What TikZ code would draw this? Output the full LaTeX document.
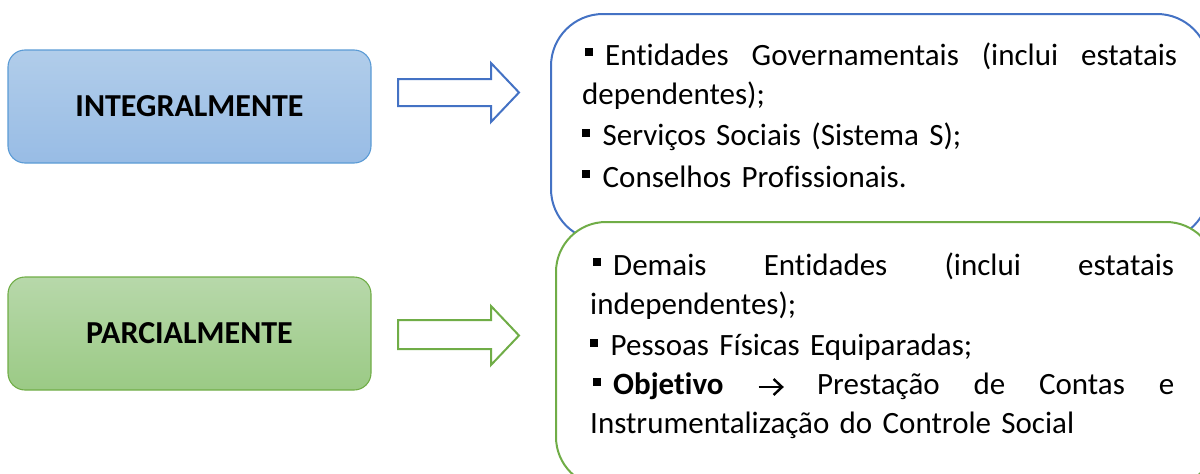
\documentclass[tikz,border=0pt]{standalone}
\usepackage{fontspec}
\setmainfont[Ligatures=NoCommon]{Carlito}
\definecolor{bdark}{HTML}{4472C4}
\definecolor{blite}{HTML}{5B9BD5}
\definecolor{gline}{HTML}{70AD47}
\definecolor{btop}{HTML}{B1CDEA}
\definecolor{bbot}{HTML}{98BCE5}
\definecolor{gtop}{HTML}{B7D8AA}
\definecolor{gbot}{HTML}{9BCA85}
\newcommand\sqbul{\kern2.5pt\rule[9pt]{8pt}{8pt}\kern12.5pt}
\newcommand\jline[2]{\leavevmode\hbox to #1{#2}}
\newcommand\objarrow{\tikz[baseline=0pt, x=1pt, y=1pt, line width=2.4pt, line cap=butt]{%
  \draw (0,7.5) -- (23,7.5);
  \draw[line join=miter] (15,15.5) -- (23.5,7.5) -- (15,-0.5);}}
\tikzset{
  catbox/.style={rounded corners=17pt, minimum width=363pt, minimum height=113pt, line width=1.1pt,
    font=\fontsize{32}{38}\selectfont\bfseries, inner sep=0pt},
  listbox/.style={line width=2pt, fill=white, anchor=north west, inner sep=0pt},
  listtext/.style={anchor=base west, inner sep=0pt, align=left, font=\fontsize{31}{39}\selectfont},
  blockarrow/.style={line width=2pt, fill=white, line join=miter}
}
\begin{document}
\begin{tikzpicture}[x=1pt,y=-1pt]
\useasboundingbox (0,0) rectangle (1200,474);
\clip (0,0) rectangle (1200,474);
% left category boxes
\node[catbox, draw=blite, top color=btop, bottom color=bbot] (intg) at (189.5,106.5) {INTEGRALMENTE};
\node[catbox, draw=gline, top color=gtop, bottom color=gbot] (parc) at (189.5,333.5) {PARCIALMENTE};
% block arrows
\draw[blockarrow, draw=bdark] (398,79) -- (491,79) -- (491,63) -- (519,92.5) -- (491,122) -- (491,106) -- (398,106) -- cycle;
\draw[blockarrow, draw=gline] (398,320) -- (491,320) -- (491,306) -- (519,335.5) -- (491,365) -- (491,349) -- (398,349) -- cycle;
% right list boxes
\node[listbox, draw=bdark, rounded corners=52pt, minimum width=658pt, minimum height=227pt] (blist) at (550,13) {};
\node[listbox, draw=gline, rounded corners=50pt, minimum width=660pt, minimum height=265pt] (glist) at (555,221) {};
% texts
\node[listtext, text width=595pt] (btext) at (582,65) {%
\jline{595pt}{\sqbul Entidades \hfill Governamentais \hfill (inclui \hfill estatais}\\
dependentes);\\
\sqbul Serviços Sociais (Sistema S);\\
\sqbul Conselhos Profissionais.};
\node[listtext, text width=584pt] (gtext) at (590,275) {%
\jline{584pt}{\sqbul Demais \hfill Entidades \hfill (inclui \hfill estatais}\\
independentes);\\
\sqbul Pessoas Físicas Equiparadas;\\
\jline{584pt}{\sqbul\textbf{Objetivo} \hfill \objarrow{} \hfill Prestação \hfill de \hfill Contas \hfill e}\\
Instrumentalização do Controle Social};
\end{tikzpicture}
\end{document}
